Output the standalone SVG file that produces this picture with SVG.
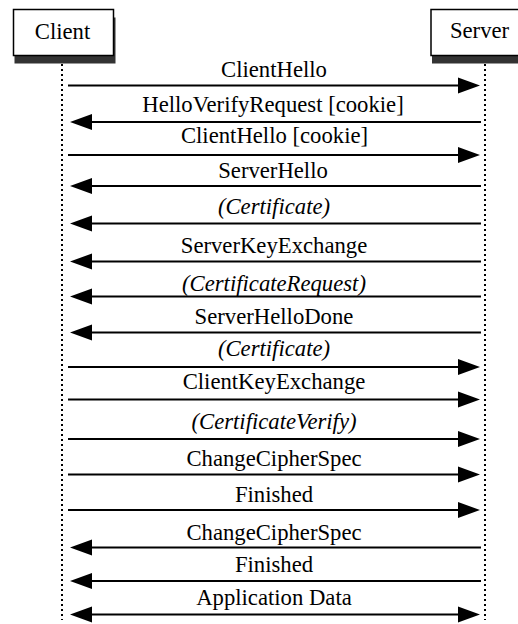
<svg xmlns="http://www.w3.org/2000/svg" width="518" height="624" viewBox="0 0 518 624">
<style>
text{font-family:'Liberation Serif','DejaVu Serif',serif;font-size:22.7px;fill:#000;text-anchor:middle}
.it{font-style:italic}
.box{fill:#fff;stroke:#000;stroke-width:1.5}
.shadow{fill:#333}
.life{stroke:#000;stroke-width:2;stroke-dasharray:2 3;fill:none}
.msg{stroke:#000;stroke-width:2;fill:none}
.r{marker-end:url(#ah)}
.l{marker-start:url(#ah)}
.b{marker-start:url(#ah);marker-end:url(#ah)}
</style>
<defs>
<marker id="ah" viewBox="0 0 22 16" refX="0" refY="8" markerWidth="22" markerHeight="16" markerUnits="userSpaceOnUse" orient="auto-start-reverse" overflow="visible">
<path d="M0,0 L22,8 L0,16 z" fill="#000"/>
</marker>
</defs>
<rect width="518" height="624" fill="#fff"/>
<g id="client">
<rect class="shadow" x="14.5" y="17.5" width="101" height="46"/>
<rect class="box" x="13.5" y="9.5" width="100" height="46"/>
<text x="62.5" y="39" font-family="Liberation Serif, serif">Client</text>
</g>
<g id="server">
<rect class="shadow" x="432" y="17.5" width="101" height="46"/>
<rect class="box" x="431" y="9.5" width="100" height="46"/>
<text x="479.5" y="37.5">Server</text>
</g>
<g id="lifelines">
<line class="life" x1="62" y1="64" x2="62" y2="620"/>
<line class="life" x1="485" y1="64" x2="485" y2="620"/>
</g>
<g id="connectors">
<line class="msg r" x1="68" y1="85.5" x2="458" y2="85.5"/>
<line class="msg l" x1="92" y1="122" x2="481" y2="122"/>
<line class="msg r" x1="68" y1="155" x2="458" y2="155"/>
<line class="msg l" x1="92" y1="186" x2="481" y2="186"/>
<line class="msg l" x1="92" y1="223.5" x2="481" y2="223.5"/>
<line class="msg l" x1="92" y1="261.5" x2="481" y2="261.5"/>
<line class="msg l" x1="92" y1="296.5" x2="481" y2="296.5"/>
<line class="msg l" x1="92" y1="332.5" x2="481" y2="332.5"/>
<line class="msg r" x1="68" y1="367" x2="458" y2="367"/>
<line class="msg r" x1="68" y1="399.5" x2="458" y2="399.5"/>
<line class="msg r" x1="68" y1="439" x2="458" y2="439"/>
<line class="msg r" x1="68" y1="474.5" x2="458" y2="474.5"/>
<line class="msg r" x1="68" y1="510" x2="458" y2="510"/>
<line class="msg l" x1="92" y1="547.5" x2="481" y2="547.5"/>
<line class="msg l" x1="92" y1="581" x2="481" y2="581"/>
<line class="msg b" x1="92" y1="614.5" x2="458" y2="614.5"/>
</g>
<g id="labels">
<text x="274" y="76.7">ClientHello</text>
<text x="273" y="111.7">HelloVerifyRequest [cookie]</text>
<text x="274.5" y="143.3">ClientHello [cookie]</text>
<text x="273" y="178.3">ServerHello</text>
<text class="it" x="274" y="213.5">(Certificate)</text>
<text x="274" y="253">ServerKeyExchange</text>
<text class="it" x="274" y="290.5">(CertificateRequest)</text>
<text x="274" y="323.5">ServerHelloDone</text>
<text class="it" x="274" y="355.5">(Certificate)</text>
<text x="274" y="389">ClientKeyExchange</text>
<text class="it" x="274" y="429">(CertificateVerify)</text>
<text x="274" y="465.7">ChangeCipherSpec</text>
<text x="274" y="501.7">Finished</text>
<text x="274" y="540">ChangeCipherSpec</text>
<text x="274" y="571.7">Finished</text>
<text x="274" y="605">Application Data</text>
</g>
</svg>
